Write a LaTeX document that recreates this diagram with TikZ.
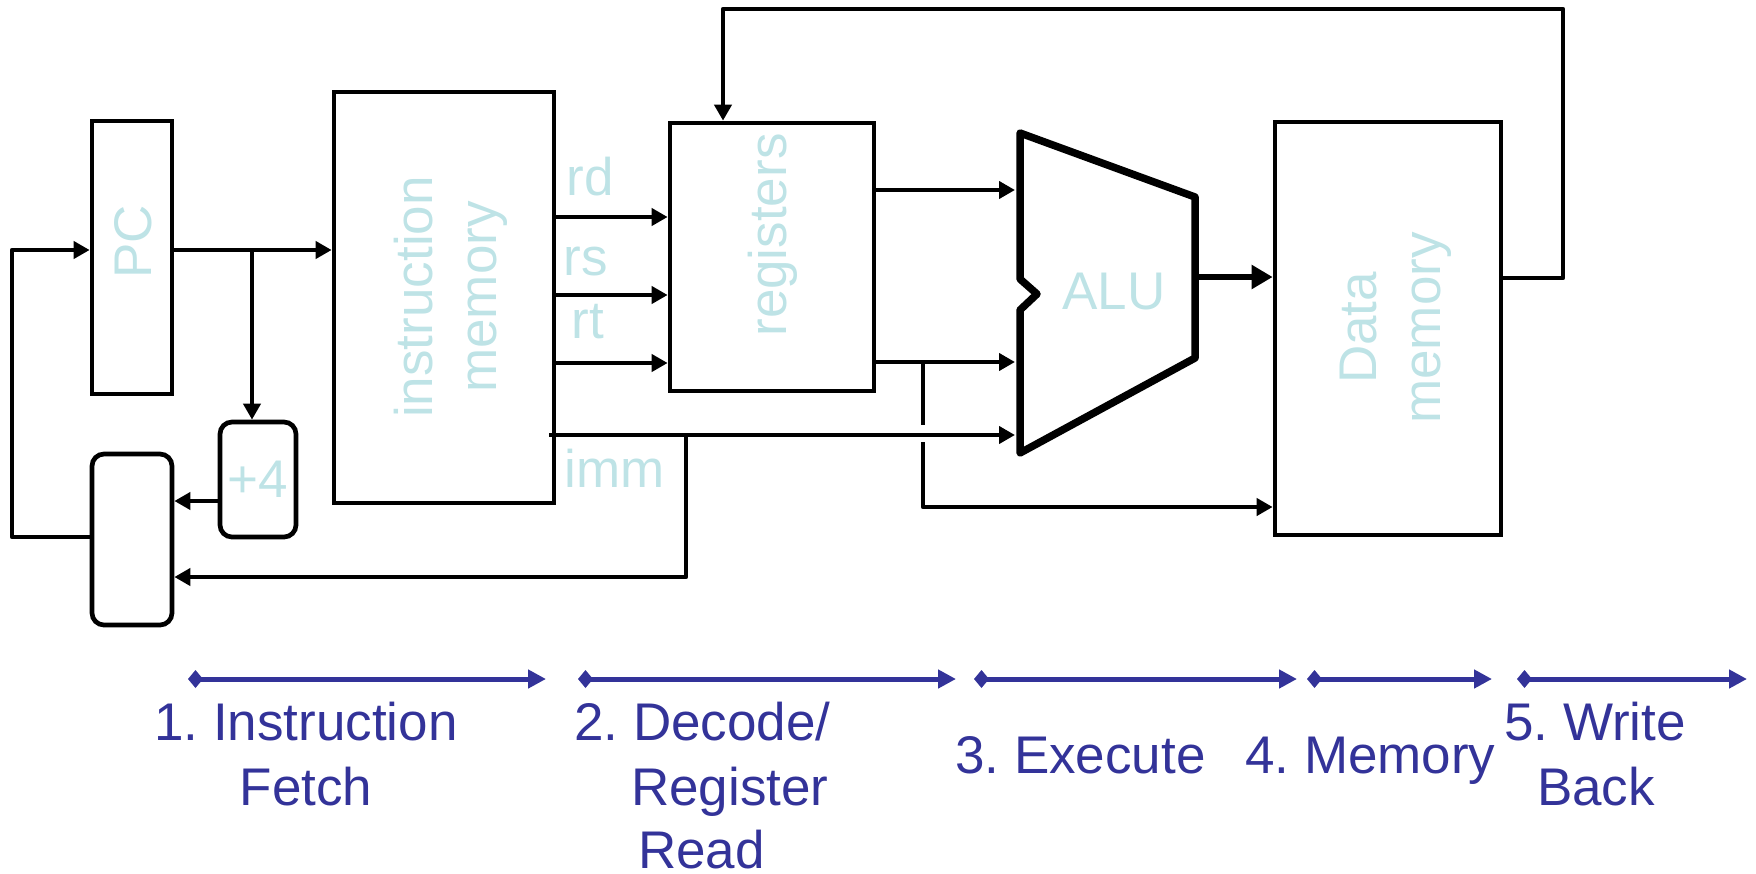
\documentclass[tikz,border=0pt]{standalone}
\usepackage{fontspec}
\setmainfont{Liberation Sans}
\usetikzlibrary{arrows.meta}
\definecolor{lb}{RGB}{190,227,230}
\definecolor{stage}{RGB}{51,51,153}
\frenchspacing
\begin{document}
\begin{tikzpicture}[x=1pt,y=-1pt,
  box/.style={draw,line width=4.7pt,inner sep=0pt},
  conn/.style={line width=4.5pt,line join=round},
  arr/.style={conn,-{Triangle[length=16pt,width=17pt]}},
  lbl/.style={text=lb,font=\fontsize{53}{64}\selectfont\frenchspacing,inner sep=0pt},
  stg/.style={text=stage,font=\fontsize{53}{65}\selectfont\frenchspacing,inner sep=0pt},
  stgarr/.style={draw=stage,line width=5pt,{Diamond[length=15pt,width=18pt]}-{Triangle[length=18pt,width=18pt]}},
]
\useasboundingbox (0,0) rectangle (1756,873);

% boxes
\node[box,minimum width=80pt,minimum height=273pt] (pc) at (132,257.5) {};
\node[box,rounded corners=12pt,minimum width=80pt,minimum height=171pt] (mux) at (132,539.5) {};
\node[box,lbl,rounded corners=12pt,minimum width=76pt,minimum height=115pt] (plus4) at (258,479.5) {+4};
\node[box,minimum width=220pt,minimum height=411pt] (imem) at (444,297.5) {};
\node[box,minimum width=204pt,minimum height=268pt] (regs) at (772,257) {};
\node[box,minimum width=226pt,minimum height=413pt] (dmem) at (1388,328.5) {};

% ALU shape
\draw[line width=7.5pt,line join=round] (1020,133) -- (1195,197) -- (1195,358) -- (1020,453)
  -- (1020,310) -- (1037,294) -- (1020,279) -- cycle;

% labels
\node[lbl,rotate=90] (pcl) at (133,242) {PC};
\node[lbl,rotate=90,align=center] (imeml) at (450.5,297) {instruction\\memory};
\node[lbl,rotate=90] (regsl) at (773,235) {registers};
\node[lbl,rotate=90,align=center] (dmeml) at (1395.5,328) {Data\\memory};
\node[lbl] (alul) at (1114,292) {ALU};
\node[lbl,anchor=base west] (rdl) at (566.5,195) {rd};
\node[lbl,anchor=base west] (rsl) at (563.5,275) {rs};
\node[lbl,anchor=base west] (rtl) at (571.5,338) {rt};
\node[lbl,anchor=base west] (imml) at (564.5,487) {imm};

% helper coordinates
\coordinate (y250) at (0,250);
\coordinate (y217) at (0,217);
\coordinate (y295) at (0,295);
\coordinate (y363) at (0,363);
\coordinate (y190) at (0,190);
\coordinate (y362) at (0,362);
\coordinate (y501) at (0,501);
\coordinate (y577) at (0,577);
\coordinate (y278) at (0,278);
\coordinate (br1) at (252,250);
\coordinate (lp1) at (12,537);
\coordinate (lp2) at (12,250);
\coordinate (imS) at (549,435);
\coordinate (imB1) at (686,435);
\coordinate (imB2) at (686,577);
\coordinate (aluI1) at (1015,190);
\coordinate (aluI2) at (1015,362);
\coordinate (aluI3) at (1015,435);
\coordinate (aluO) at (1195,277);
\coordinate (br2) at (923,362);
\coordinate (br3) at (923,425);
\coordinate (br4) at (923,442);
\coordinate (br5) at (923,507);
\coordinate (wb1) at (1563,278);
\coordinate (wb2) at (1563,9);
\coordinate (wb3) at (723,9);

% connectors
\draw[arr] (pc.east |- y250) -- (imem.west |- y250);
\draw[arr] (br1) -- (plus4.north -| br1);
\draw[arr] (mux.west |- lp1) -- (lp1) -- (lp2) -- (pc.west |- lp2);
\draw[arr] (plus4.west |- y501) -- (mux.east |- y501);
\draw[arr] (imS) -- (aluI3);
\draw[arr] (imB1) -- (imB2) -- (mux.east |- y577);
\draw[arr] (imem.east |- y217) -- (regs.west |- y217);
\draw[arr] (imem.east |- y295) -- (regs.west |- y295);
\draw[arr] (imem.east |- y363) -- (regs.west |- y363);
\draw[arr] (regs.east |- y190) -- (aluI1);
\draw[arr] (regs.east |- y362) -- (aluI2);
\draw[conn] (br2) -- (br3);
\draw[arr] (br4) -- (br5) -- (dmem.west |- br5);
\draw[line width=6pt,-{Triangle[length=21pt,width=23pt]}] (aluO) -- (dmem.west |- aluO);
\draw[arr] (dmem.east |- y278) -- (wb1) -- (wb2) -- (wb3) -- (regs.north -| wb3);

% stage arrows
\coordinate (a1s) at (188,679); \coordinate (a1e) at (546,679);
\coordinate (a2s) at (578,679); \coordinate (a2e) at (956,679);
\coordinate (a3s) at (974,679); \coordinate (a3e) at (1297,679);
\coordinate (a4s) at (1307,679); \coordinate (a4e) at (1492,679);
\coordinate (a5s) at (1517,679); \coordinate (a5e) at (1747,679);
\draw[stgarr] (a1s) -- (a1e);
\draw[stgarr] (a2s) -- (a2e);
\draw[stgarr] (a3s) -- (a3e);
\draw[stgarr] (a4s) -- (a4e);
\draw[stgarr] (a5s) -- (a5e);

% stage labels
\node[stg,anchor=base] (s1a) at (306,740) {1. Instruction};
\node[stg,anchor=base] (s1b) at (306,805) {Fetch};
\node[stg,anchor=base west] (s2a) at (574,740) {2. Decode/};
\node[stg,anchor=base west] (s2b) at (631,805) {Register};
\node[stg,anchor=base west] (s2c) at (638,868) {Read};
\node[stg,anchor=base west] (s3) at (955,773) {3. Execute};
\node[stg,anchor=base west] (s4) at (1245,773) {4. Memory};
\node[stg,anchor=base] (s5a) at (1595,740) {5. Write};
\node[stg,anchor=base] (s5b) at (1596,805) {Back};
\end{tikzpicture}
\end{document}
